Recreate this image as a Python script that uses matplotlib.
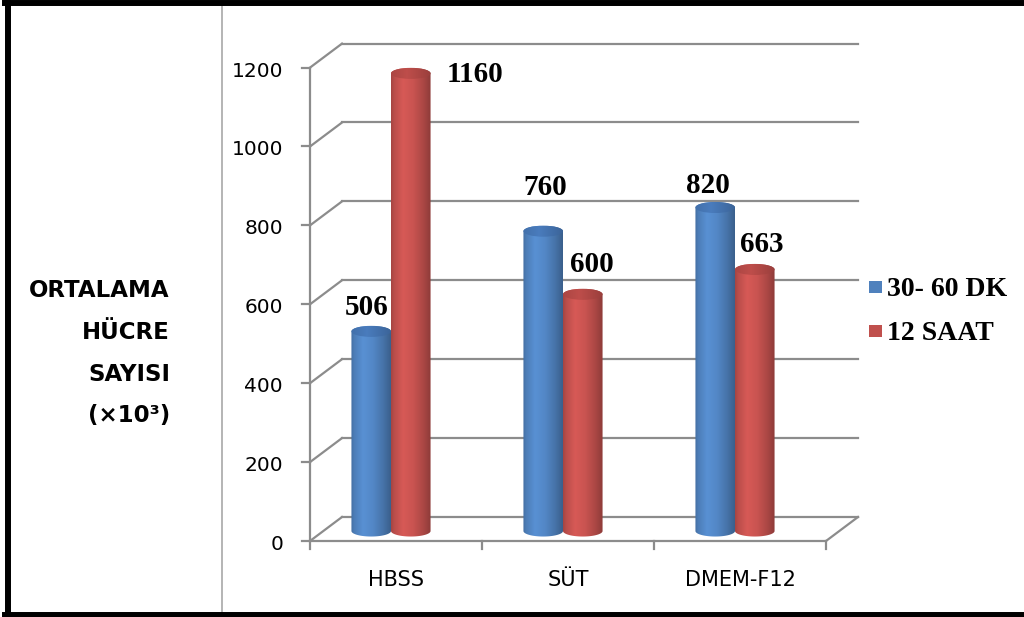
import numpy as np
import matplotlib
matplotlib.use('Agg')
import matplotlib.pyplot as plt
from matplotlib.patches import Polygon, Ellipse, Rectangle
from matplotlib.transforms import ScaledTranslation, IdentityTransform
from matplotlib.lines import Line2D
import matplotlib.colors as mcolors

# ---------------- data ----------------
categories = ['HBSS', 'SÜT', 'DMEM-F12']
series_names = ['30- 60 DK', '12 SAAT']
values_short = [506, 760, 820]
values_long = [1160, 600, 663]
y_ticks = [0, 200, 400, 600, 800, 1000, 1200]
axis_title_lines = ['ORTALAMA', 'HÜCRE', 'SAYISI', '(×10³)']

series_values = [values_short, values_long]
colors = ['#4f81bd', '#c0504d']
top_colors = ['#4676b4', '#b54a47']
# data-label offsets in pixels (dx right, dy up) from each bar top
label_offsets = [[(-5, 16), (2, 36), (-7, 15)],
                 [(64, -9), (9, 22), (7, 17)]]

W, H = 1024, 617
DPI = 100
fig = plt.figure(figsize=(W / DPI, H / DPI), dpi=DPI)
fig.patch.set_facecolor('white')

# axes = the middle (bar) plane of the pseudo-3D box
x0p, x1p = 305, 821
y0p, kpx = 531, 0.3945
y1p = y0p - 1200 * kpx
ax = fig.add_axes([x0p / W, 1 - y0p / H, (x1p - x0p) / W, (y0p - y1p) / H])
ax.set_autoscale_on(False)
ax.set_xlim(-0.5, len(categories) - 0.5)
ax.set_ylim(0, y_ticks[-1])
ax.set_axis_off()


def shifted(dx, dy):
    """data transform shifted by dx px right and dy px down"""
    return ax.transData + ScaledTranslation(dx / DPI, -dy / DPI, fig.dpi_scale_trans)


FRONT = (5, 10)
BACK = (37, -14)
GRID = '#8c8c8c'
GLW = 1.6


def P(x, v, off=(0, 0), extra=(0, 0)):
    return shifted(off[0] + extra[0], off[1] + extra[1]).transform((x, v))


def seg(p, q, **kw):
    ax.add_line(Line2D([p[0], q[0]], [p[1], q[1]], transform=IdentityTransform(),
                       clip_on=False, **kw))


xl, xr = -0.5, len(categories) - 0.5
# back wall gridlines + side wall diagonals
for t in y_ticks:
    seg(P(xl, t, BACK), P(xr, t, BACK), color=GRID, lw=GLW, zorder=1)
    seg(P(xl, t, FRONT), P(xl, t, BACK), color=GRID, lw=GLW, zorder=1)
    # y tick marks
    seg(P(xl, t, FRONT, (-8, 0)), P(xl, t, FRONT), color=GRID, lw=GLW, zorder=1)
    ax.text(xl, t, f'{t}', transform=shifted(FRONT[0] - 27, FRONT[1] + 9),
            ha='right', va='baseline', fontsize=14.5, family='DejaVu Sans',
            color='black', clip_on=False)
# front vertical axis
seg(P(xl, 0, FRONT), P(xl, y_ticks[-1], FRONT), color=GRID, lw=GLW, zorder=1)
# floor
seg(P(xl, 0, FRONT), P(xr, 0, FRONT), color=GRID, lw=GLW, zorder=1)
seg(P(xr, 0, FRONT), P(xr, 0, BACK), color=GRID, lw=GLW, zorder=1)
# x ticks
for b in np.arange(xl, xr + 0.01, 1.0):
    seg(P(b, 0, FRONT), P(b, 0, FRONT, (0, 8)), color=GRID, lw=GLW, zorder=1)
for i, c in enumerate(categories):
    ax.text(i, 0, c, transform=shifted(FRONT[0], 55), ha='center', va='baseline',
            fontsize=15, family='DejaVu Sans', color='black', clip_on=False)

# cylinders
bw = 0.23
eh = 28.0  # ellipse height in value units
tpts = [0, 0.08, 0.3, 0.55, 0.8, 1.0]
shade = [0.86, 0.97, 1.12, 1.05, 0.9, 0.74]
N = 80
tt = np.linspace(0, 1, N)
sh = np.interp(tt, tpts, shade)
theta_b = np.linspace(np.pi, 2 * np.pi, 60)
theta_t = np.linspace(0, np.pi, 60)
top_shade = np.interp(tt, [0, 0.4, 1], [0.95, 1.05, 0.85])

for s, vals in enumerate(series_values):
    base = np.array(mcolors.to_rgb(colors[s]))
    img = np.clip(base[None, None, :] * sh[None, :, None], 0, 1)
    tbase = np.array(mcolors.to_rgb(top_colors[s]))
    timg = np.clip(tbase[None, None, :] * top_shade[None, :, None], 0, 1)
    for i, v in enumerate(vals):
        xc = i + (s - 0.5) * bw
        a = bw / 2
        xs = np.concatenate([xc + a * np.cos(theta_b), xc + a * np.cos(theta_t)])
        ys = np.concatenate([eh / 2 * np.sin(theta_b), v + eh / 2 * np.sin(theta_t)])
        poly = Polygon(np.column_stack([xs, ys]), closed=True, facecolor='none',
                       edgecolor='none', clip_on=False, zorder=3 + s)
        ax.add_patch(poly)
        im = ax.imshow(img, extent=(xc - a, xc + a, -eh / 2, v + eh / 2),
                       aspect='auto', interpolation='bilinear', zorder=3 + s)
        im.set_clip_path(poly)
        im.set_clip_box(fig.bbox)
        top = Ellipse((xc, v), bw, eh, facecolor='none', edgecolor='none',
                      clip_on=False, zorder=3.5 + s)
        ax.add_patch(top)
        tim = ax.imshow(timg, extent=(xc - a, xc + a, v - eh / 2, v + eh / 2),
                        aspect='auto', interpolation='bilinear', zorder=3.5 + s)
        tim.set_clip_path(top)
        tim.set_clip_box(fig.bbox)
        dx, dy = label_offsets[s][i]
        ax.annotate(f'{v}', xy=(xc, v), xytext=(dx, dy), textcoords='offset pixels',
                    ha='center', va='baseline', fontsize=21, fontweight='bold',
                    family='Liberation Serif', color='black', annotation_clip=False,
                    zorder=6)

ax.set_xlim(-0.5, len(categories) - 0.5)
ax.set_ylim(0, y_ticks[-1])

# legend
leg_y = [296, 340]
for s, name in enumerate(series_names):
    fig.add_artist(Rectangle((869 / W, 1 - (leg_y[s] - 3) / H), 13 / W, 12 / H,
                             transform=fig.transFigure, facecolor=colors[s],
                             edgecolor='none'))
    fig.text(887 / W, 1 - leg_y[s] / H, name, ha='left', va='baseline',
             fontsize=20, fontweight='bold', family='Liberation Serif')

# axis title (left panel)
title_base = [296.7, 339, 381.3, 422]
for line, yb in zip(axis_title_lines, title_base):
    fig.text(170 / W, 1 - yb / H, line, ha='right', va='baseline', fontsize=16.5,
             fontweight='bold', family='DejaVu Sans')

# frame and divider
fig.add_artist(Line2D([222 / W, 222 / W], [0, 1], transform=fig.transFigure,
                      color='#a0a0a0', lw=1.1))
bl = 4.3
fig.add_artist(Line2D([8 / W, 8 / W], [0, 1], transform=fig.transFigure, color='black', lw=bl))
fig.add_artist(Line2D([5 / W, 1], [1 - 3 / H, 1 - 3 / H], transform=fig.transFigure,
                      color='black', lw=bl))
fig.add_artist(Line2D([5 / W, 1], [1 - 614.5 / H, 1 - 614.5 / H], transform=fig.transFigure,
                      color='black', lw=bl))

fig.savefig('out.png', dpi=DPI)
